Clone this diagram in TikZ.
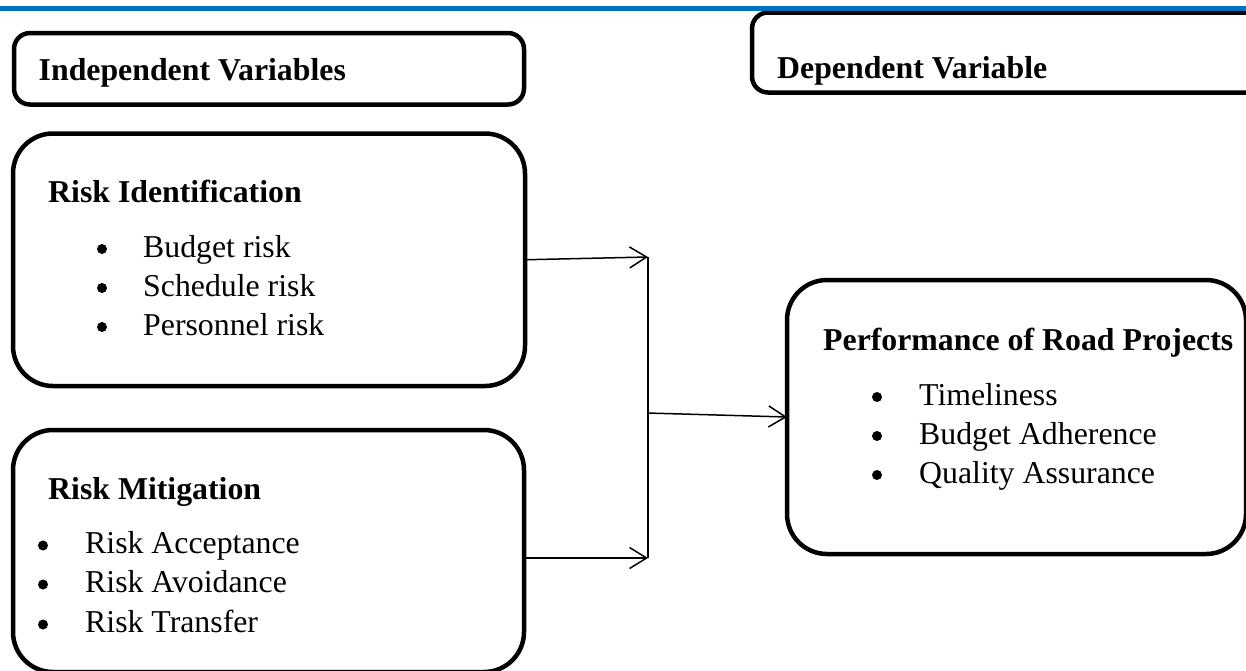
\documentclass[tikz,border=0pt]{standalone}
\usepackage{fontspec}
\setmainfont{Liberation Serif}
\usetikzlibrary{arrows.meta}
\definecolor{topblue}{HTML}{0070C0}
\begin{document}
\begin{tikzpicture}[x=1pt,y=-1pt,
  box/.style={draw, line width=4.5pt, rounded corners=#1, inner sep=0pt, outer sep=0pt, anchor=north west},
  heading/.style={anchor=base west, inner sep=0pt, font=\bfseries\fontsize{31.8}{39}\selectfont},
  item/.style={anchor=base west, inner sep=0pt, font=\fontsize{31.8}{39}\selectfont},
  dot/.style={circle, fill=black, inner sep=0pt, minimum size=10pt},
  arr/.style={line width=1.5pt, -{Straight Barb[length=17pt,width=21pt]}},
  conn/.style={line width=1.5pt}]
\useasboundingbox (0,0) rectangle (1246,670);
\clip (0,0) rectangle (1246,670);
% boxes
\node[box=16pt, minimum width=510pt, minimum height=71.5pt] (iv) at (14,33) {};
\node[box=16pt, minimum width=510pt, minimum height=80pt] (dv) at (752,12.5) {};
\node[box=40pt, minimum width=512pt, minimum height=252.5pt] (ri) at (13,133.5) {};
\node[box=40pt, minimum width=511pt, minimum height=242pt] (rm) at (13,430) {};
\node[box=40pt, minimum width=459pt, minimum height=274pt] (pr) at (787,280) {};
% top rule
\fill[topblue] (0,6) rectangle (1246,10.5);
% headings
\node[heading] (ivt) at (38.5,80) {Independent Variables};
\node[heading] (dvt) at (777,78) {Dependent Variable};
\node[heading] (rit) at (48,202) {Risk Identification};
\node[heading] (rmt) at (48,499) {Risk Mitigation};
\node[heading] (prt) at (823,350) {Performance of Road Projects};
% Risk Identification items
\node[dot] (rib1) at (102,249) {};
\node[item] (ri1) at (143,257) {Budget risk};
\node[dot] (rib2) at (102,288) {};
\node[item] (ri2) at (143,296) {Schedule risk};
\node[dot] (rib3) at (102,327) {};
\node[item] (ri3) at (143,335) {Personnel risk};
% Risk Mitigation items
\node[dot] (rmb1) at (43,545.5) {};
\node[item] (rm1) at (85,553) {Risk Acceptance};
\node[dot] (rmb2) at (43,584.5) {};
\node[item] (rm2) at (85,592) {Risk Avoidance};
\node[dot] (rmb3) at (43,624.5) {};
\node[item] (rm3) at (85,632) {Risk Transfer};
% Performance items
\node[dot] (prb1) at (877,397) {};
\node[item] (pr1) at (919,405) {Timeliness};
\node[dot] (prb2) at (877,436) {};
\node[item] (pr2) at (919,444) {Budget Adherence};
\node[dot] (prb3) at (877,475) {};
\node[item] (pr3) at (919,483) {Quality Assurance};
% connectors
\coordinate (j1) at (648,257);
\coordinate (j2) at (648,558);
\coordinate (jm) at (647,413);
\draw[arr] (ri.east) -- (j1);
\draw[arr] (rm.east |- j2) -- (j2);
\draw[conn] (j1) -- (j2);
\draw[arr] (jm) -- (pr.west);
\end{tikzpicture}
\end{document}
